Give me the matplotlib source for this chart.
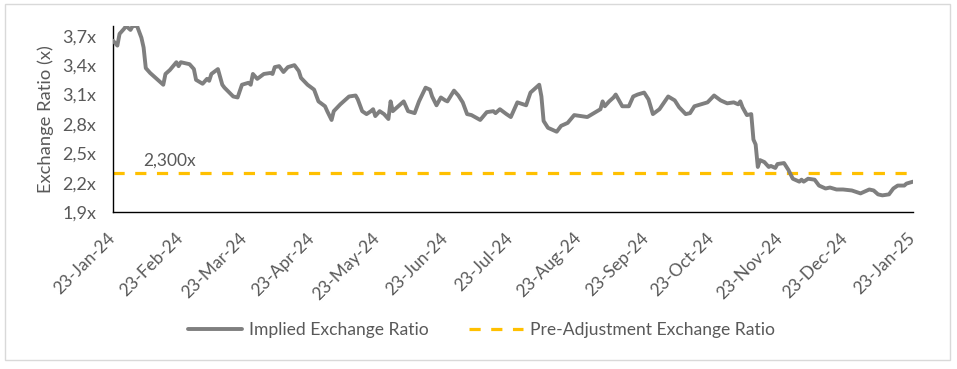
import matplotlib
matplotlib.use("Agg")
import matplotlib.pyplot as plt
from matplotlib.ticker import FuncFormatter
from matplotlib.patches import Rectangle
import pandas as pd

plt.rcParams['font.family'] = ['Lato', 'DejaVu Sans']

start_date = "2024-01-23"
day_offsets = [
    0, 2, 3, 5, 6, 8, 9, 11, 13, 14,
    15, 17, 20, 23, 24, 26, 29, 30, 31, 35,
    37, 38, 41, 43, 44, 45, 48, 50, 51, 55,
    57, 59, 62, 63, 64, 66, 69, 72, 73, 74,
    76, 78, 80, 83, 85, 86, 89, 92, 94, 97,
    98, 100, 101, 104, 106, 108, 111, 112, 114, 116,
    118, 119, 120, 122, 124, 126, 127, 128, 130, 133,
    135, 138, 140, 143, 145, 146, 148, 150, 152, 153,
    156, 158, 160, 162, 164, 168, 171, 174, 175, 177,
    180, 182, 185, 189, 191, 195, 196, 197, 199, 203,
    205, 208, 211, 214, 217, 220, 223, 224, 225, 227,
    229, 230, 233, 236, 238, 240, 243, 245, 247, 250,
    254, 257, 259, 262, 264, 266, 269, 272, 275, 278,
    281, 284, 286, 287, 288, 290, 292, 293, 294, 295,
    296, 298, 300, 301, 303, 304, 307, 309, 311, 314,
    315, 316, 318, 321, 323, 326, 328, 331, 334, 338,
    342, 346, 348, 350, 352, 355, 357, 359, 362, 363,
    366,
]
implied_ratio = [
    3.65, 3.60, 3.72, 3.77, 3.80, 3.76, 3.80, 3.80, 3.68, 3.58,
    3.37, 3.32, 3.26, 3.20, 3.31, 3.35, 3.43, 3.39, 3.43, 3.41,
    3.36, 3.25, 3.21, 3.26, 3.24, 3.31, 3.36, 3.20, 3.17, 3.08,
    3.07, 3.20, 3.22, 3.20, 3.31, 3.26, 3.31, 3.32, 3.31, 3.38,
    3.39, 3.33, 3.38, 3.40, 3.34, 3.27, 3.20, 3.15, 3.03, 2.98,
    2.93, 2.84, 2.93, 3.00, 3.04, 3.08, 3.09, 3.05, 2.93, 2.90,
    2.93, 2.95, 2.88, 2.93, 2.90, 2.85, 3.03, 2.93, 2.97, 3.03,
    2.93, 2.91, 3.03, 3.17, 3.15, 3.08, 2.99, 3.07, 3.04, 3.03,
    3.14, 3.09, 3.02, 2.90, 2.89, 2.84, 2.92, 2.93, 2.91, 2.95,
    2.90, 2.87, 3.02, 2.99, 3.12, 3.20, 3.08, 2.83, 2.76, 2.72,
    2.78, 2.81, 2.89, 2.88, 2.87, 2.91, 2.95, 3.03, 2.98, 3.03,
    3.07, 3.10, 2.98, 2.98, 3.08, 3.10, 3.12, 3.05, 2.90, 2.95,
    3.08, 3.04, 2.97, 2.90, 2.91, 2.98, 3.00, 3.02, 3.09, 3.04,
    3.01, 3.02, 3.00, 3.03, 2.97, 2.89, 2.90, 2.64, 2.59, 2.36,
    2.43, 2.41, 2.36, 2.37, 2.35, 2.39, 2.40, 2.33, 2.24, 2.21,
    2.23, 2.21, 2.24, 2.23, 2.17, 2.14, 2.15, 2.13, 2.13, 2.12,
    2.09, 2.13, 2.12, 2.08, 2.07, 2.08, 2.14, 2.17, 2.17, 2.19,
    2.21,
]
pre_adjustment_ratio = 2.300
tick_dates = ["2024-01-23", "2024-02-23", "2024-03-23", "2024-04-23", "2024-05-23",
              "2024-06-23", "2024-07-23", "2024-08-23", "2024-09-23", "2024-10-23",
              "2024-11-23", "2024-12-23", "2025-01-23"]
y_ticks = [1.9, 2.2, 2.5, 2.8, 3.1, 3.4, 3.7]

dates = pd.Timestamp(start_date) + pd.to_timedelta(day_offsets, unit="D")
tick_ts = pd.to_datetime(tick_dates)

text_color = "#595959"
fig = plt.figure(figsize=(9.57, 3.69), dpi=100)
ax = fig.add_axes([113/957, 1-212/369, 800/957, (212-26)/369])

ax.plot(dates, implied_ratio, color="#7f7f7f", lw=2.8, solid_joinstyle="round",
        solid_capstyle="round", label="Implied Exchange Ratio", zorder=3)
ax.axhline(pre_adjustment_ratio, color="#FFC000", lw=2.3, dashes=(3.5, 3.3),
           label="Pre-Adjustment Exchange Ratio", zorder=2)
ax.annotate(f"{pre_adjustment_ratio:.3f}x".replace(".", ","),
            xy=(tick_ts[0] + pd.Timedelta(days=14), pre_adjustment_ratio),
            xytext=(0, 3), textcoords="offset points",
            fontsize=12.5, color=text_color, va="bottom", ha="left")

ax.set_xlim(tick_ts[0], tick_ts[-1])
ax.set_ylim(1.9, 3.8)
ax.set_yticks(y_ticks)
ax.yaxis.set_major_formatter(FuncFormatter(lambda v, p: f"{v:.1f}x".replace(".", ",")))
ax.set_xticks(tick_ts)
ax.set_xticklabels([t.strftime("%d-%b-%y") for t in tick_ts])
ax.tick_params(axis="both", length=0, labelsize=12.5, labelcolor=text_color)
ax.tick_params(axis="y", labelsize=13, pad=12)
ax.tick_params(axis="x", pad=17)
for lbl in ax.get_xticklabels():
    lbl.set_rotation(45)
    lbl.set_ha("right")
    lbl.set_va("center")
    lbl.set_rotation_mode("anchor")

ax.set_ylabel("Exchange Ratio (x)", fontsize=13.2, color=text_color, labelpad=6)
for s in ["top", "right"]:
    ax.spines[s].set_visible(False)
for s in ["left", "bottom"]:
    ax.spines[s].set_color("black")
    ax.spines[s].set_linewidth(1.0)

leg = fig.legend(loc="center", bbox_to_anchor=(0.503, 1-330/369), ncol=2, frameon=False,
                 fontsize=12.6, handlelength=3.1, columnspacing=2.3, handletextpad=0.4)
for t in leg.get_texts():
    t.set_color(text_color)

fig.patches.append(Rectangle((5/957, 1-360/369), 945/957, 356/369, transform=fig.transFigure,
                             fill=False, edgecolor="#d9d9d9", lw=1.0))

fig.savefig("out.png", dpi=100, facecolor="white")
